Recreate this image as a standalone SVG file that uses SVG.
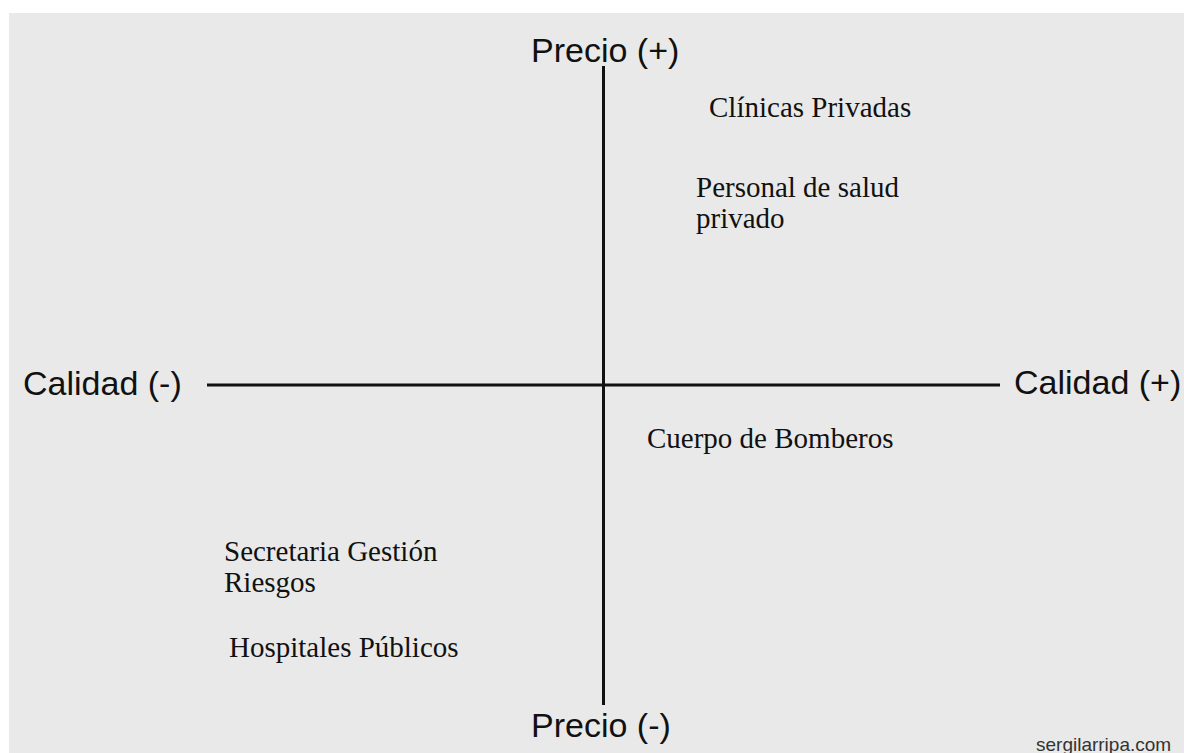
<svg xmlns="http://www.w3.org/2000/svg" width="1184" height="753" viewBox="0 0 1184 753">
<style>
.axis{font-family:"Liberation Sans",Arial,sans-serif;font-size:34px;fill:#111}
.item{font-family:"Liberation Serif","Times New Roman",serif;font-size:29px;fill:#111}
.credit{font-family:"Liberation Sans",Arial,sans-serif;font-size:19px;fill:#333}
.ax{stroke:#111;stroke-width:3;fill:none}
</style>
<rect x="0" y="0" width="1184" height="753" fill="#ffffff"/>
<rect x="9" y="13" width="1175" height="740" fill="#e9e9e9"/>
<g id="connectors">
<line class="ax" x1="603.5" y1="66" x2="603.5" y2="705"/>
<line class="ax" x1="207" y1="385" x2="1000" y2="385"/>
</g>
<g id="axis-price-plus"><text class="axis" x="531" y="62">Precio (+)</text></g>
<g id="axis-price-minus"><text class="axis" x="531" y="737">Precio (-)</text></g>
<g id="axis-quality-minus"><text class="axis" x="23" y="395">Calidad (-)</text></g>
<g id="axis-quality-plus"><text class="axis" x="1014" y="394">Calidad (+)</text></g>
<g id="clinicas"><text class="item" x="709" y="117">Clínicas Privadas</text></g>
<g id="personal"><text class="item" x="696" y="197">Personal de salud</text><text class="item" x="696" y="228">privado</text></g>
<g id="bomberos"><text class="item" x="647" y="448">Cuerpo de Bomberos</text></g>
<g id="secretaria"><text class="item" x="224" y="561">Secretaria Gestión</text><text class="item" x="224" y="592">Riesgos</text></g>
<g id="hospitales"><text class="item" x="229" y="657">Hospitales Públicos</text></g>
<text class="credit" x="1036" y="751">sergilarripa.com</text>
</svg>
